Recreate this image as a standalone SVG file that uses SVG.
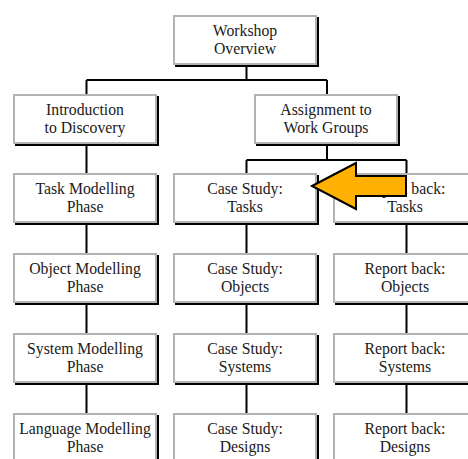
<svg xmlns="http://www.w3.org/2000/svg" width="468" height="459" viewBox="0 0 468 459">
  <defs>
    <style>
      .shadow { fill: #000; }
      .box { fill: #fff; stroke: #b3b3b3; stroke-width: 2; }
      .label { font-family: "Liberation Serif", "Times New Roman", serif; font-size: 15.75px; fill: #1a1a1a; text-anchor: middle; }
      .wire { fill: none; stroke: #000; stroke-width: 2; }
      .pointer { fill: #ffb000; stroke: #000; stroke-width: 2; stroke-linejoin: miter; }
    </style>
  </defs>
  <rect width="468" height="459" fill="#fff"/>

  <!-- connectors -->
  <g id="connectors" class="wire">
    <path d="M246.5 66 V80 M86.5 80 H327 M86.5 80 V94 M327 80 V94"/>
    <path d="M327 146 V160 M246.5 160 H406.5 M246.5 160 V173 M406.5 160 V173"/>
    <path d="M86.5 146 V173 M86.5 225 V253 M86.5 305 V333 M86.5 385 V413"/>
    <path d="M246.5 225 V253 M246.5 305 V333 M246.5 385 V413"/>
    <path d="M406.5 225 V253 M406.5 305 V333 M406.5 385 V413"/>
  </g>

  <g id="workshop-overview">
    <rect class="shadow" x="175" y="17" width="144" height="50"/>
    <rect class="box" x="174" y="16" width="142" height="48"/>
    <text class="label" x="245" y="36">Workshop</text>
    <text class="label" x="245" y="54">Overview</text>
  </g>

  <g id="intro-discovery">
    <rect class="shadow" x="15" y="96" width="144" height="50"/>
    <rect class="box" x="14" y="95" width="142" height="48"/>
    <text class="label" x="85" y="115">Introduction</text>
    <text class="label" x="85" y="133">to Discovery</text>
  </g>

  <g id="assignment-groups">
    <rect class="shadow" x="256" y="96" width="144" height="50"/>
    <rect class="box" x="255" y="95" width="142" height="48"/>
    <text class="label" x="326" y="115">Assignment to</text>
    <text class="label" x="326" y="133">Work Groups</text>
  </g>

  <g id="task-modelling">
    <rect class="shadow" x="15" y="175" width="144" height="50"/>
    <rect class="box" x="14" y="174" width="142" height="48"/>
    <text class="label" x="85" y="194">Task Modelling</text>
    <text class="label" x="85" y="212">Phase</text>
  </g>

  <g id="case-tasks">
    <rect class="shadow" x="175" y="175" width="144" height="50"/>
    <rect class="box" x="174" y="174" width="142" height="48"/>
    <text class="label" x="245" y="194">Case Study:</text>
    <text class="label" x="245" y="212">Tasks</text>
  </g>

  <g id="report-tasks">
    <rect class="shadow" x="335" y="175" width="144" height="50"/>
    <rect class="box" x="334" y="174" width="142" height="48"/>
    <text class="label" x="405" y="194">Report back:</text>
    <text class="label" x="405" y="212">Tasks</text>
  </g>

  <g id="object-modelling">
    <rect class="shadow" x="15" y="255" width="144" height="50"/>
    <rect class="box" x="14" y="254" width="142" height="48"/>
    <text class="label" x="85" y="274">Object Modelling</text>
    <text class="label" x="85" y="292">Phase</text>
  </g>

  <g id="case-objects">
    <rect class="shadow" x="175" y="255" width="144" height="50"/>
    <rect class="box" x="174" y="254" width="142" height="48"/>
    <text class="label" x="245" y="274">Case Study:</text>
    <text class="label" x="245" y="292">Objects</text>
  </g>

  <g id="report-objects">
    <rect class="shadow" x="335" y="255" width="144" height="50"/>
    <rect class="box" x="334" y="254" width="142" height="48"/>
    <text class="label" x="405" y="274">Report back:</text>
    <text class="label" x="405" y="292">Objects</text>
  </g>

  <g id="system-modelling">
    <rect class="shadow" x="15" y="335" width="144" height="50"/>
    <rect class="box" x="14" y="334" width="142" height="48"/>
    <text class="label" x="85" y="354">System Modelling</text>
    <text class="label" x="85" y="372">Phase</text>
  </g>

  <g id="case-systems">
    <rect class="shadow" x="175" y="335" width="144" height="50"/>
    <rect class="box" x="174" y="334" width="142" height="48"/>
    <text class="label" x="245" y="354">Case Study:</text>
    <text class="label" x="245" y="372">Systems</text>
  </g>

  <g id="report-systems">
    <rect class="shadow" x="335" y="335" width="144" height="50"/>
    <rect class="box" x="334" y="334" width="142" height="48"/>
    <text class="label" x="405" y="354">Report back:</text>
    <text class="label" x="405" y="372">Systems</text>
  </g>

  <g id="language-modelling">
    <rect class="shadow" x="15" y="415" width="144" height="50"/>
    <rect class="box" x="14" y="414" width="142" height="48"/>
    <text class="label" x="85" y="434">Language Modelling</text>
    <text class="label" x="85" y="452">Phase</text>
  </g>

  <g id="case-designs">
    <rect class="shadow" x="175" y="415" width="144" height="50"/>
    <rect class="box" x="174" y="414" width="142" height="48"/>
    <text class="label" x="245" y="434">Case Study:</text>
    <text class="label" x="245" y="452">Designs</text>
  </g>

  <g id="report-designs">
    <rect class="shadow" x="335" y="415" width="144" height="50"/>
    <rect class="box" x="334" y="414" width="142" height="48"/>
    <text class="label" x="405" y="434">Report back:</text>
    <text class="label" x="405" y="452">Designs</text>
  </g>

  <!-- block arrow pointing at the case-study tasks box -->
  <g id="highlight-arrow">
    <polygon class="pointer" points="312,186 356,163 356,176 406,176 406,196 356,196 356,209"/>
  </g>
</svg>
